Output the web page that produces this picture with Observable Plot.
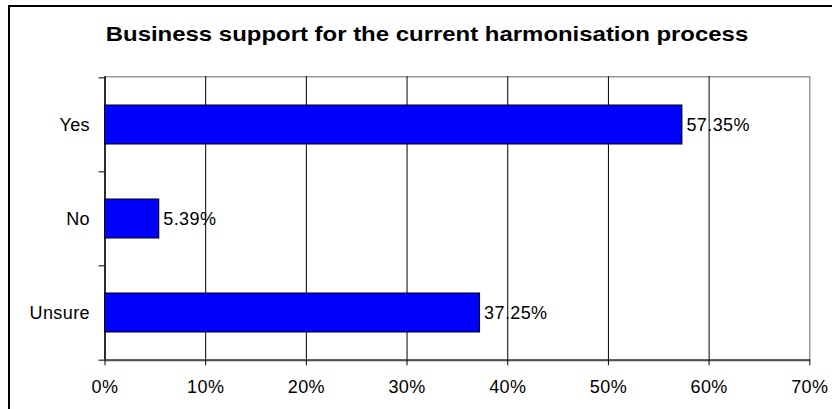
<!DOCTYPE html>
<html><head><meta charset="utf-8">
<script src="https://cdn.jsdelivr.net/npm/d3@7"></script>
<script src="https://cdn.jsdelivr.net/npm/@observablehq/plot@0.6"></script>
<style>
body{margin:0;background:#fff;overflow:hidden;font-family:"Liberation Sans",Arial,sans-serif}
#wrap{position:relative;width:832px;height:409px;overflow:hidden;background:#fff}
#frame{position:absolute;left:8px;top:5px;width:900px;height:500px;border-left:2px solid #000;border-top:2px solid #000}
#title{position:absolute;left:0;top:22px;width:854px;text-align:center;font-weight:bold;font-size:21px;color:#000;line-height:24px;transform:scaleX(1.14);transform-origin:427px 0}
#chart{position:absolute;left:0;top:0}
</style></head>
<body>
<div id="wrap">
  <div id="frame"></div>
  <div id="title">Business support for the current harmonisation process</div>
  <div id="chart"></div>
</div>
<script>
const categories = ["Yes", "No", "Unsure"];
const values = [57.35, 5.39, 37.25];
const xTicks = [0, 10, 20, 30, 40, 50, 60, 70];
const title = "Business support for the current harmonisation process";

const data = categories.map((c, i) => ({category: c, value: values[i]}));

const W = 832, H = 409;
const mL = 104.5, mR = 22.7, mT = 76.3, mB = 49.7;
const step = (H - mT - mB) / categories.length;

const chart = Plot.plot({
  width: W,
  height: H,
  marginLeft: mL,
  marginRight: mR,
  marginTop: mT,
  marginBottom: mB,
  style: {fontFamily: "Liberation Sans, Arial, sans-serif", fontSize: "18px", background: "transparent", color: "#000", letterSpacing: "0.4px"},
  x: {domain: [0, 70]},
  y: {domain: categories, paddingInner: 0.59, paddingOuter: 0.295},
  marks: [
    Plot.frame({stroke: "#808080", strokeWidth: 1.2}),
    Plot.gridX({ticks: xTicks.slice(1, -1), stroke: "#000", strokeOpacity: 1, strokeWidth: 1}),
    Plot.ruleX([0], {stroke: "#000", strokeWidth: 1.5}),
    Plot.barX(data, {x: "value", y: "category", fill: "#0000FF", stroke: "#000", strokeWidth: 1}),
    Plot.text(data, {x: "value", y: "category", text: d => d.value.toFixed(2) + "%", textAnchor: "start", dx: 4, fontSize: 18, fill: "#000"}),
    Plot.ruleY(["Unsure"], {y: d => d, dy: step / 2, stroke: "#505050", strokeWidth: 2}),
    Plot.axisX({ticks: xTicks, tickFormat: d => d + "%", tickSize: 6, tickPadding: 14, fontSize: 18, label: null, stroke: "#000"}),
    Plot.axisY({tickSize: 0, tickPadding: 15, fontSize: 18, label: null}),
    Plot.axisY({ticks: categories, tickSize: 6, fill: "none", label: null, dy: -step / 2, stroke: "#000"}),
    Plot.axisY({ticks: ["Unsure"], tickSize: 6, fill: "none", label: null, dy: step / 2, stroke: "#000"})
  ]
});
document.getElementById("chart").appendChild(chart);
document.getElementById("title").textContent = title;
</script>
</body></html>
